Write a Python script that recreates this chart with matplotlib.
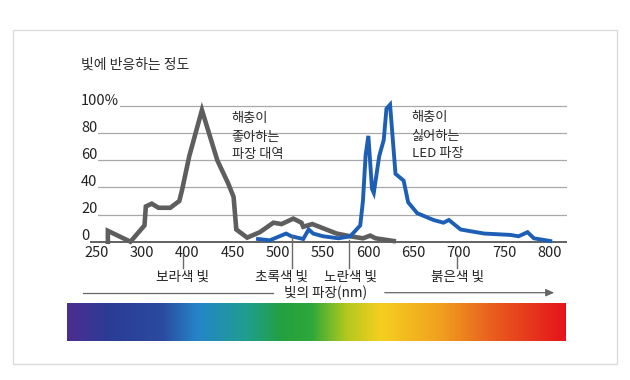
import numpy as np
import matplotlib
matplotlib.use("Agg")
import matplotlib.pyplot as plt
from matplotlib.colors import LinearSegmentedColormap
from matplotlib.patches import Rectangle, FancyArrowPatch
from matplotlib.lines import Line2D
import matplotlib.transforms as mtrans

plt.rcParams['font.family'] = ['Noto Sans CJK KR', 'DejaVu Sans']
plt.rcParams['font.weight'] = 'medium'

# ---------------- data ----------------
title = "빛에 반응하는 정도"
x_ticks = [250, 300, 400, 450, 500, 550, 600, 650, 700, 750, 800]
y_ticks = [0, 20, 40, 60, 80, 100]
y_labels = ["0", "20", "40", "60", "80", "100%"]

insect_nm = [262, 262, 287, 305, 308, 321, 336, 362, 382, 388, 402, 416, 433,
             445, 451, 454, 466, 480, 495, 504, 517, 526, 528, 538, 565, 580,
             594, 602, 608, 628]
insect_val = [0, 8, 0, 12, 26, 28, 25, 25, 30, 38, 63, 97, 60,
              43, 33, 9, 3, 7, 14, 13, 17, 14, 11, 13, 6, 4,
              2.5, 4.5, 2.5, 0.5]

led_nm = [478, 491, 509, 515, 528, 534, 539, 550, 567, 580, 591, 594, 597,
          600, 604, 606, 612, 617, 620, 624, 630, 639, 644, 654, 672, 683,
          689, 702, 728, 757, 766, 776, 783, 801]
led_val = [2, 1, 6, 4, 2, 9, 6, 4, 2.5, 4, 12, 30, 64,
           78, 39, 36, 63, 75, 98, 101, 50, 45, 29, 21, 16, 14,
           16, 9, 6, 5, 4, 7, 2.5, 0.5]

insect_note = ["해충이", "좋아하는", "파장 대역"]
led_note = ["해충이", "싫어하는", "LED 파장"]

band_names = ["보라색 빛", "초록색 빛", "노란색 빛", "붉은색 빛"]
band_nm = [390, 516, 579, 698]
axis_title = "빛의 파장(nm)"

# ---------------- layout helpers ----------------
W, H = 630, 380
fig = plt.figure(figsize=(W / 100, H / 100), dpi=100)
fig.patch.set_facecolor("white")


def fx(px):
    return px / W


def fy(py):
    return 1 - py / H


# outer frame
fig.add_artist(Rectangle((fx(12.5), fy(364)), fx(616.7) - fx(12.5), fy(30) - fy(364),
                         transform=fig.transFigure, fill=False,
                         edgecolor="#dcdcdc", linewidth=1.0))

# piecewise wavelength scale (300-400 compressed)
def fwd(x):
    x = np.asarray(x, dtype=float)
    return np.where(x <= 300, x, np.where(x <= 400, 300 + (x - 300) / 2, x - 50))


def inv(p):
    p = np.asarray(p, dtype=float)
    return np.where(p <= 300, p, np.where(p <= 350, 300 + (p - 300) * 2, p + 50))


ax_l, ax_r, ax_t, ax_b = 85, 567, 100, 245
ax = fig.add_axes([fx(ax_l), fy(ax_b), fx(ax_r) - fx(ax_l), fy(ax_t) - fy(ax_b)])
ax.set_xscale("function", functions=(fwd, inv))
ppu = 452.3 / 500  # pixels per position unit
ax.set_xlim(250 - (97 - ax_l) / ppu, 819.6)
y0px, ypu = 241.7, 1.357
ax.set_ylim(-(ax_b - y0px) / ypu, (y0px - ax_t) / ypu)
ax.set_facecolor("none")
for s in ax.spines.values():
    s.set_visible(False)

for v in y_ticks[1:]:
    ax.axhline(v, color="#a8a8a8", lw=0.9, zorder=1)
ax.axhline(0, color="#555555", lw=1.3, zorder=1)

ax.plot(insect_nm, insect_val, color="#5e5e5e", lw=3.3, zorder=3,
        solid_joinstyle="miter", clip_on=False)
ax.plot(led_nm, led_val, color="#1d5fb5", lw=2.8, zorder=4,
        solid_joinstyle="miter", clip_on=False)

ax.set_xticks(x_ticks)
ax.set_xticklabels([str(t) for t in x_ticks], fontsize=10.5, color="#222222")
ax.tick_params(axis="x", length=0, pad=0.5)
ax.set_yticks([])

ytr = mtrans.blended_transform_factory(fig.transFigure, ax.transData)
for v, lab in zip(y_ticks, y_labels):
    ax.text(fx(81), v + 1.1, lab, transform=ytr, ha="left", va="baseline",
            fontsize=10.5, color="#222222", zorder=5,
            bbox=dict(facecolor="white", edgecolor="none", pad=0.6))

fig.text(fx(81), fy(65), title, fontsize=10, color="#2a2a2a", va="center", ha="left")

for i, line in enumerate(insect_note):
    fig.text(fx(231.5), fy([118.5, 137.5, 154.5][i]), line, fontsize=9.5,
             color="#2a2a2a", va="center", ha="left")
for i, line in enumerate(led_note):
    fig.text(fx(411.5), fy([117.5, 136, 154][i]), line, fontsize=9.5,
             color="#2a2a2a", va="center", ha="left")

# band marker lines and labels
band_top = [255, 236, 240, 255]
band_label_dx = [0, -11, 1, 0]
xtr = mtrans.blended_transform_factory(ax.transData, fig.transFigure)
for nm, name, top, dx in zip(band_nm, band_names, band_top, band_label_dx):
    fig.add_artist(Line2D([nm, nm], [fy(top), fy(268)], transform=xtr,
                          color="#6a6a6a", lw=1.0))
    disp_x = ax.transData.transform((nm, 0))[0]
    fig.text(fx(disp_x) + fx(dx), fy(276.5), name, fontsize=9.8, color="#222222",
             ha="center", va="center")

# wavelength axis arrow
fig.add_artist(Line2D([fx(83), fx(273)], [fy(292.7), fy(292.7)],
                      transform=fig.transFigure, color="#666666", lw=0.9))
fig.add_artist(FancyArrowPatch((fx(382), fy(292.7)), (fx(557), fy(292.7)),
                               transform=fig.transFigure, arrowstyle="-|>,head_length=5,head_width=2.2",
                               color="#666666", lw=0.9, mutation_scale=1))
fig.text(fx(326), fy(293), axis_title, fontsize=9.8, color="#222222",
         ha="center", va="center")

# spectrum bar
spec = LinearSegmentedColormap.from_list("spec", [
    (0.00, "#4b2d8f"), (0.08, "#2b3c96"), (0.19, "#2a4aa0"), (0.26, "#2585c8"),
    (0.36, "#1f9e8e"), (0.43, "#23a040"), (0.49, "#2ea83a"), (0.56, "#b2c81e"),
    (0.63, "#f5cf1f"), (0.75, "#f0a01f"), (0.86, "#e85a1e"), (1.00, "#e5141b")])
cax = fig.add_axes([fx(66.7), fy(341), fx(565) - fx(66.7), fy(302.7) - fy(341)])
cax.imshow(np.linspace(0, 1, 512)[None, :], aspect="auto", cmap=spec)
cax.set_axis_off()

fig.savefig("out.png", dpi=100, facecolor="white")
